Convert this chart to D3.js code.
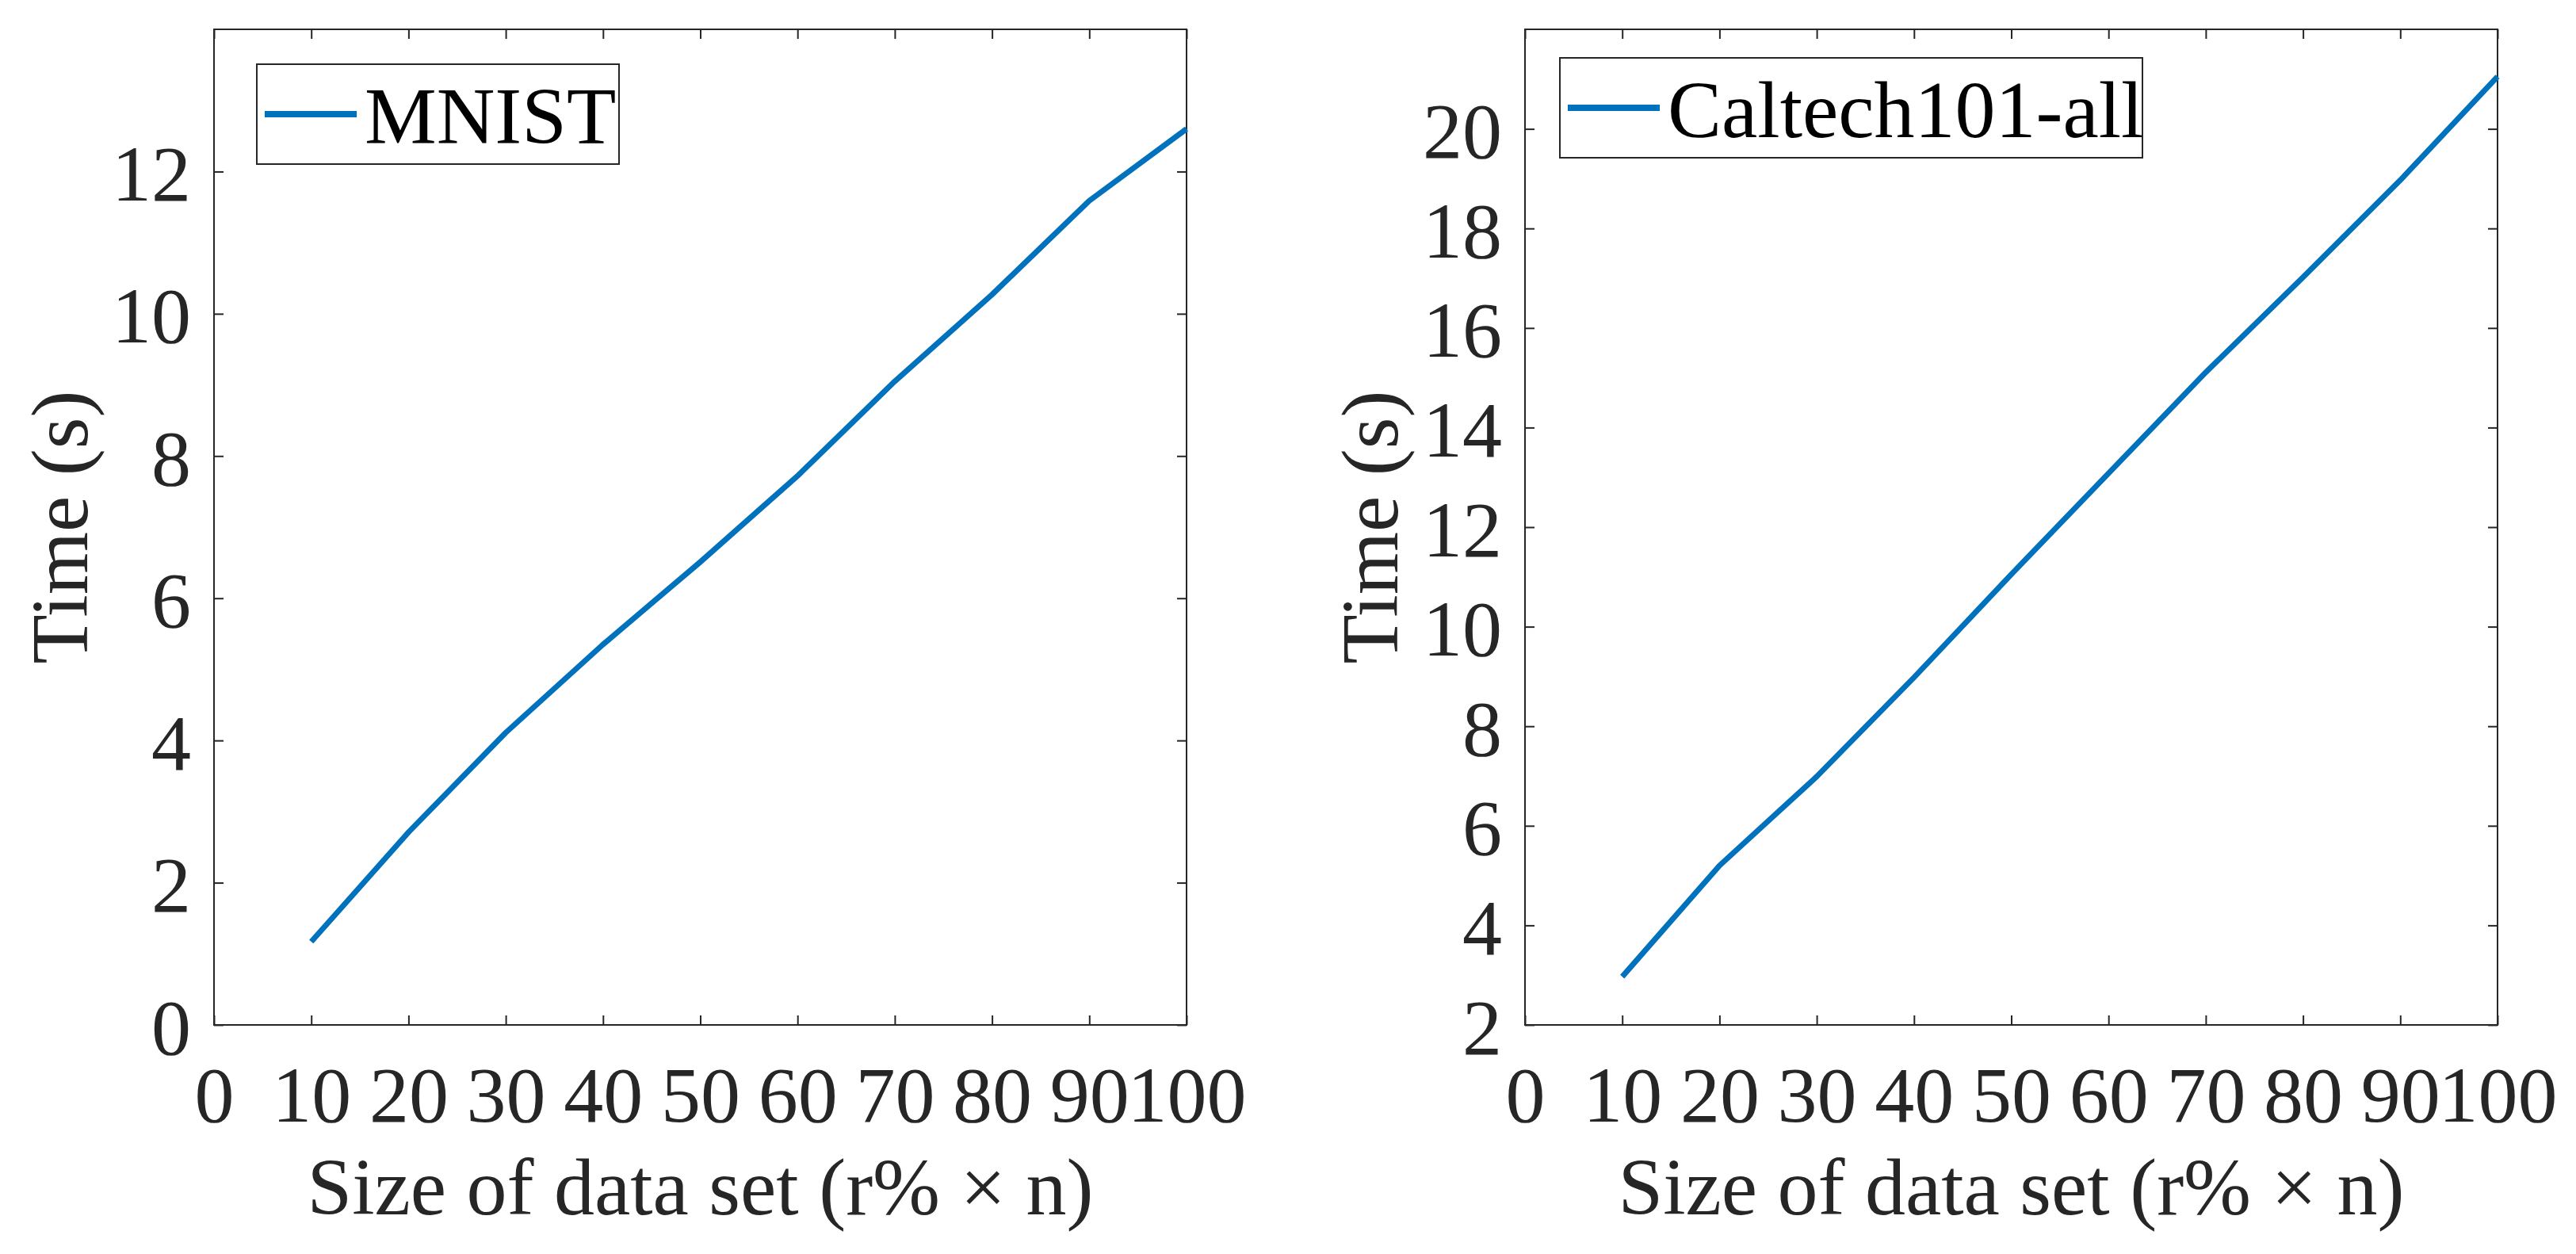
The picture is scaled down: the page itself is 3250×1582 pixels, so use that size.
<!DOCTYPE html>
<html>
<head>
<meta charset="utf-8">
<script src="https://cdn.jsdelivr.net/npm/d3@7"></script>
<style>
  body { margin: 0; background: #fff; }
  text { font-family: "Liberation Serif", "Times New Roman", serif; }
</style>
</head>
<body>
<div id="chart"></div>
<script>
// Data
const sizes = [10, 20, 30, 40, 50, 60, 70, 80, 90, 100];
const mnistTime = [1.17, 2.71, 4.11, 5.35, 6.51, 7.72, 9.05, 10.27, 11.59, 12.60];
const caltechTime = [2.97, 5.20, 6.99, 8.98, 11.05, 13.08, 15.11, 17.02, 18.97, 21.05];

const xTicks = [0, 10, 20, 30, 40, 50, 60, 70, 80, 90, 100];
const mnistTicks = [0, 2, 4, 6, 8, 10, 12];
const caltechTicks = [2, 4, 6, 8, 10, 12, 14, 16, 18, 20];

// Config
const width = 3250;
const height = 1582;
const plotTop = 37, plotBottom = 1293;
const axisColor = "#262626";
const lineColor = "#0072BD";

const svg = d3.select("#chart")
    .append("svg")
    .attr("width", width)
    .attr("height", height);

function drawPanel(opts) {
    const x = d3.scaleLinear().domain([0, 100]).range([opts.x0, opts.x1]);
    const y = d3.scaleLinear().domain(opts.yDomain).range([plotBottom, plotTop]);
    const g = svg.append("g");

    // axes (ticks point inward on all four sides)
    g.append("g")
        .attr("transform", `translate(0,${plotBottom})`)
        .call(d3.axisBottom(x).tickValues(xTicks).tickSize(-12).tickPadding(51));
    g.append("g")
        .attr("transform", `translate(0,${plotTop})`)
        .call(d3.axisTop(x).tickValues(xTicks).tickSize(-12).tickFormat(""));
    const leftAxis = g.append("g")
        .attr("transform", `translate(${opts.x0},0)`)
        .call(d3.axisLeft(y).tickValues(opts.yTicks).tickSize(-12).tickPadding(29));
    g.append("g")
        .attr("transform", `translate(${opts.x1},0)`)
        .call(d3.axisRight(y).tickValues(opts.yTicks).tickSize(-12).tickFormat(""));

    g.selectAll(".domain").remove();
    g.selectAll(".tick line").attr("stroke", axisColor).attr("stroke-width", 2);
    g.selectAll(".tick text")
        .attr("fill", axisColor)
        .style("font-size", "100px");
    leftAxis.selectAll(".tick text").attr("dy", "0.36em");

    // box
    g.append("rect")
        .attr("x", opts.x0).attr("y", plotTop)
        .attr("width", opts.x1 - opts.x0).attr("height", plotBottom - plotTop)
        .attr("fill", "none")
        .attr("stroke", axisColor)
        .attr("stroke-width", 2);

    // series
    const line = d3.line()
        .x((d, i) => x(sizes[i]))
        .y(d => y(d));
    g.append("path")
        .datum(opts.values)
        .attr("d", line)
        .attr("fill", "none")
        .attr("stroke", lineColor)
        .attr("stroke-width", 7)
        .attr("stroke-linejoin", "round");

    // labels
    g.append("text")
        .attr("x", (opts.x0 + opts.x1) / 2)
        .attr("y", 1532)
        .attr("text-anchor", "middle")
        .attr("fill", axisColor)
        .style("font-size", "102px")
        .text("Size of data set (r% \u00d7 n)");
    g.append("text")
        .attr("transform", `translate(${opts.ylabelX},${(plotTop + plotBottom) / 2}) rotate(-90)`)
        .attr("text-anchor", "middle")
        .attr("fill", axisColor)
        .style("font-size", "102px")
        .text("Time (s)");

    // legend
    const lg = opts.legend;
    g.append("rect")
        .attr("x", lg.x).attr("y", lg.y)
        .attr("width", lg.w).attr("height", lg.h)
        .attr("fill", "#fff")
        .attr("stroke", axisColor)
        .attr("stroke-width", 2);
    g.append("line")
        .attr("x1", lg.x + 10).attr("x2", lg.x + 126)
        .attr("y1", lg.y + lg.h / 2).attr("y2", lg.y + lg.h / 2)
        .attr("stroke", lineColor)
        .attr("stroke-width", 8);
    g.append("text")
        .attr("x", lg.x + 136)
        .attr("y", lg.y + lg.h / 2 + 37)
        .attr("fill", "#000")
        .style("font-size", "102px")
        .text(opts.name);
}

drawPanel({
    x0: 270, x1: 1497,
    yDomain: [0, 14], yTicks: mnistTicks,
    values: mnistTime, name: "MNIST",
    ylabelX: 110,
    legend: {x: 324, y: 81, w: 457, h: 126}
});

drawPanel({
    x0: 1924, x1: 3151,
    yDomain: [2, 22], yTicks: caltechTicks,
    values: caltechTime, name: "Caltech101-all",
    ylabelX: 1763,
    legend: {x: 1968, y: 73, w: 735, h: 126}
});
</script>
</body>
</html>
